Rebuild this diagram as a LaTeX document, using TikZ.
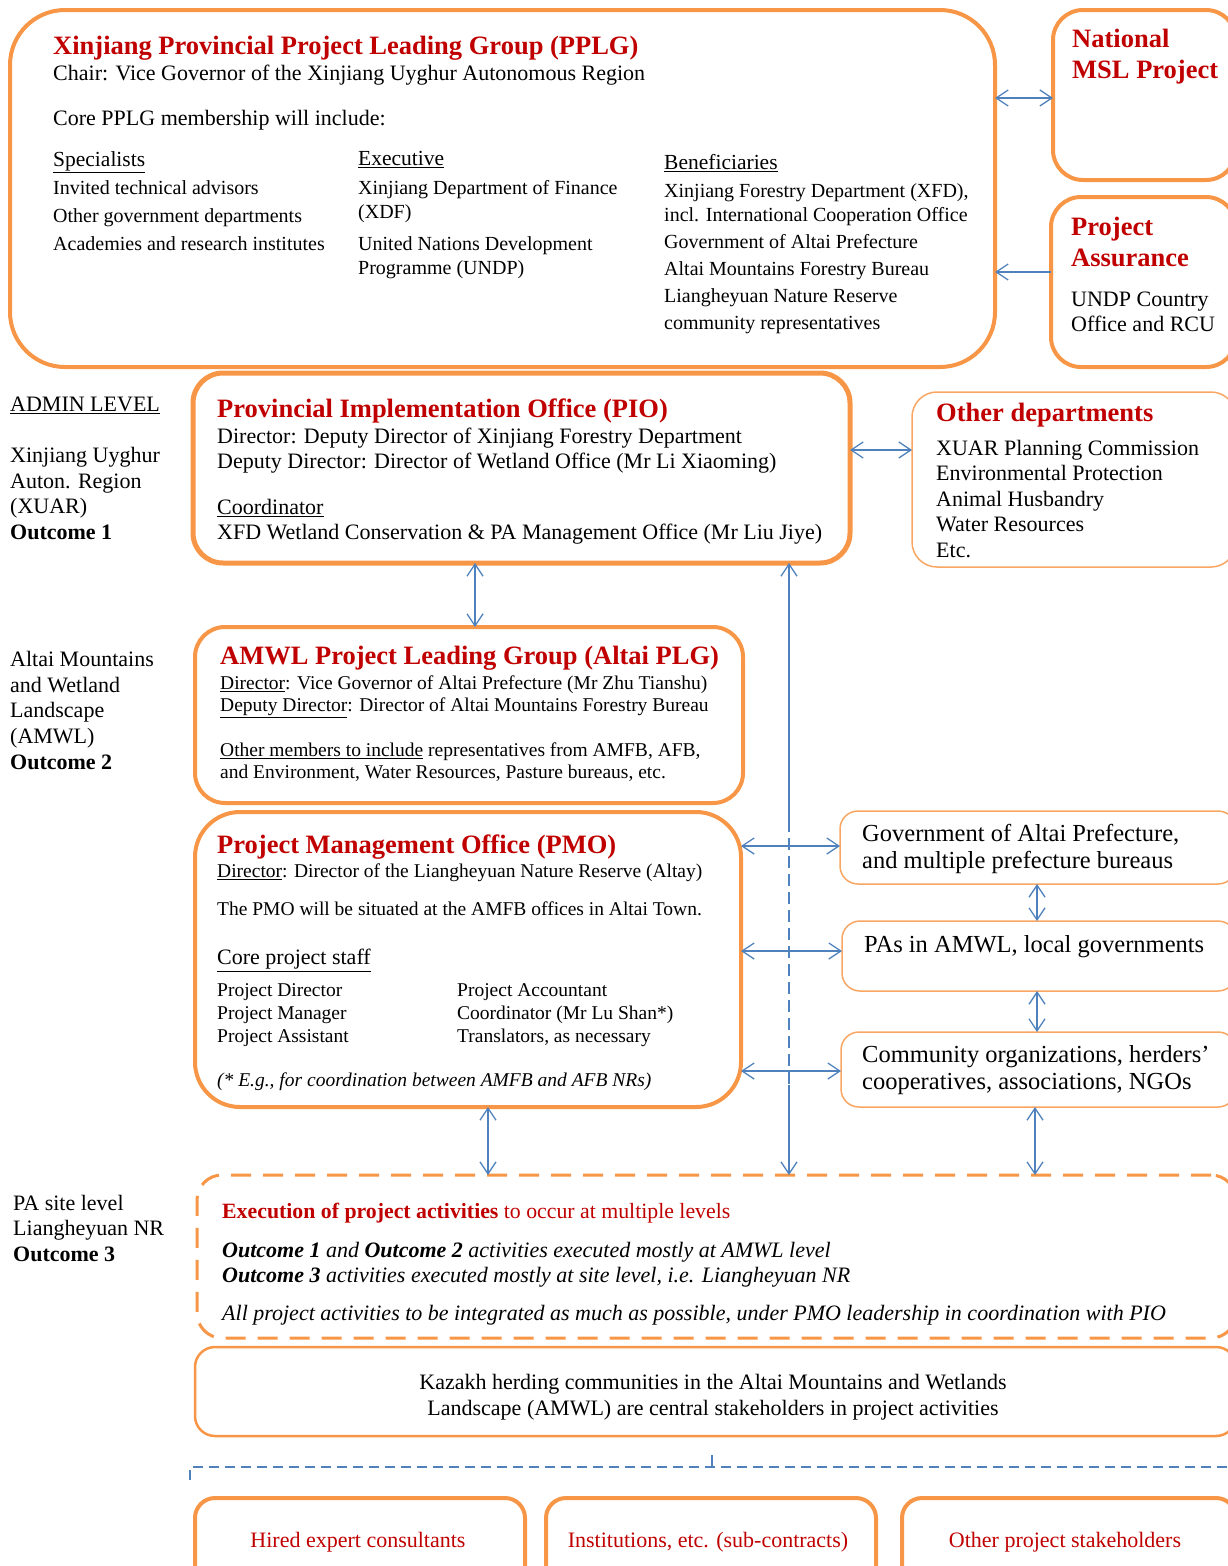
\documentclass[tikz,border=0pt]{standalone}
\usepackage{fontspec}
\setmainfont{Liberation Serif}
\usepackage{xcolor}
\usepackage{tikz}
\usetikzlibrary{positioning}
\usetikzlibrary{arrows.meta}
\pgfdeclarelayer{nodelayer}
\pgfdeclarelayer{edgelayer}
\pgfsetlayers{nodelayer,edgelayer,main}
\definecolor{boxorange}{HTML}{F79646}
\definecolor{titlered}{HTML}{C00000}
\definecolor{linkblue}{HTML}{4F81BD}
\newcommand{\setfs}[2]{\fontsize{#1}{#2}\selectfont}
\newcommand{\titlefont}{\setfs{26.5}{31}\bfseries}

\begin{document}
\begin{tikzpicture}[x=1pt, y=-1pt, >={Straight Barb[length=12pt,width=16pt]},
  panel/.style={draw=boxorange, line width=4pt, rounded corners=#1, anchor=north west, inner sep=0pt, outer sep=0pt},
  thinpanel/.style={draw=boxorange!85, line width=1.5pt, rounded corners=#1, anchor=north west, inner sep=0pt, outer sep=0pt},
  link/.style={draw=linkblue, line width=1.3pt},
  txt/.style={anchor=north west, inner sep=0pt, align=left},
  head/.style={txt, text=titlered, font=\titlefont}]
  \useasboundingbox (0,0) rectangle (1228,1566);
  \begin{pgfonlayer}{nodelayer}
    \node [panel=55pt, minimum width=985pt, minimum height=357pt] (pplg) at (10,10) {};
    \node [panel=30pt, minimum width=183pt, minimum height=170pt] (msl) at (1053,10) {};
    \node [panel=30pt, minimum width=185pt, minimum height=170pt] (assur) at (1051,197) {};
    \node [panel=30pt, line width=5pt, minimum width=657pt, minimum height=190pt] (pio) at (193,373) {};
    \node [thinpanel=25pt, minimum width=324pt, minimum height=175pt] (otherdep) at (912,392) {};
    \node [panel=30pt, minimum width=548pt, minimum height=176pt] (plg) at (195,627) {};
    \node [panel=45pt, minimum width=546pt, minimum height=295pt] (pmo) at (195,812) {};
    \node [thinpanel=18pt, minimum width=396pt, minimum height=73pt] (gov) at (840,811) {};
    \node [thinpanel=18pt, minimum width=394pt, minimum height=70pt] (pas) at (842,921) {};
    \node [thinpanel=18pt, minimum width=395pt, minimum height=75pt] (comm) at (841,1032) {};
    \node [panel=25pt, line width=3pt, dash pattern=on 20pt off 12pt, minimum width=1039pt, minimum height=163pt] (exec) at (197,1175) {};
    \node [panel=20pt, line width=2.5pt, minimum width=1041pt, minimum height=89pt] (kazakh) at (195,1347) {};
    \node [panel=20pt, minimum width=330pt, minimum height=100pt] (hired) at (195,1498) {};
    \node [panel=20pt, minimum width=330pt, minimum height=100pt] (inst) at (546,1498) {};
    \node [panel=20pt, minimum width=334pt, minimum height=100pt] (others) at (902,1498) {};
  \end{pgfonlayer}
  \begin{pgfonlayer}{edgelayer}
    \coordinate (v1) at (789,820);
    \coordinate (v2) at (789,1085);
    \coordinate (lb) at (190,1480);
    \coordinate (lt) at (190,1467);
    \coordinate (re) at (1240,1467);
    \coordinate (mk) at (712,1455);
    \coordinate (mb) at (712,1467);
    \draw [link, <->] (pplg.east |- 0,98) to (msl.west |- 0,98);
    \draw [link, ->] (assur.west |- 0,272) to (pplg.east |- 0,272);
    \draw [link, <->] (pio.east |- 0,450) to (otherdep.west |- 0,450);
    \draw [link, <->] (pio.south -| 475,0) to (plg.north -| 475,0);
    \draw [link, <-] (pio.south -| 789,0) to (v1);
    \draw [link, dash pattern=on 12pt off 6pt] (v1) to (v2);
    \draw [link, ->] (v2) to (exec.north -| 789,0);
    \draw [link, <->] (pmo.east |- 0,846) to (gov.west |- 0,846);
    \draw [link, <->] (pmo.east |- 0,951) to (pas.west |- 0,951);
    \draw [link, <->] (pmo.east |- 0,1071) to (comm.west |- 0,1071);
    \draw [link, <->] (gov.south -| 1037,0) to (pas.north -| 1037,0);
    \draw [link, <->] (pas.south -| 1037,0) to (comm.north -| 1037,0);
    \draw [link, <->] (comm.south -| 1035,0) to (exec.north -| 1035,0);
    \draw [link, <->] (pmo.south -| 488,0) to (exec.north -| 488,0);
    \draw [link, dash pattern=on 10pt off 6pt] (lb) to (lt) to (re);
    \draw [link] (mk) to (mb);
  \end{pgfonlayer}
  % PPLG
  \node [head] (pplgt) at (53,36) {Xinjiang Provincial Project Leading Group (PPLG)};
  \node [txt, font=\setfs{22}{26}] (chair) at (53,65) {Chair: Vice Governor of the Xinjiang Uyghur Autonomous Region};
  \node [txt, font=\setfs{22}{26}] (core) at (53,110) {Core PPLG membership will include:};
  \node [txt, font=\setfs{21.5}{26}] (spec) at (53,151) {\underline{Specialists}};
  \node [txt, font=\setfs{21.5}{26}] (exe) at (358,151) {\underline{Executive}};
  \node [txt, font=\setfs{21.5}{26}] (ben) at (664,154) {\underline{Beneficiaries}};
  \node [txt, font=\setfs{20}{28}] (specl) at (53,180) {Invited technical advisors\\Other government departments\\Academies and research institutes};
  \node [txt, font=\setfs{20}{24}] (exel) at (358,180) {Xinjiang Department of Finance\\(XDF)\\[8pt]United Nations Development\\Programme (UNDP)};
  \node [txt, font=\setfs{20}{24}] (benl) at (664,183) {Xinjiang Forestry Department (XFD),\\incl. International Cooperation Office\\[3pt]Government of Altai Prefecture\\[3pt]Altai Mountains Forestry Bureau\\[3pt]Liangheyuan Nature Reserve\\[3pt]community representatives};
  \node [head] (mslt) at (1072,29) {National\\MSL Project};
  \node [head] (assurt) at (1071,217) {Project\\Assurance};
  \node [txt, font=\setfs{22}{25}] (assurl) at (1071,292) {UNDP Country\\Office and RCU};
  % admin levels
  \node [txt, font=\setfs{22}{25.7}] (admin) at (10,397) {\underline{ADMIN LEVEL}};
  \node [txt, font=\setfs{22}{25.7}] (xuar) at (10,447) {Xinjiang Uyghur\\Auton. Region\\(XUAR)\\\textbf{Outcome 1}};
  \node [txt, font=\setfs{22}{25.7}] (amwl) at (10,651) {Altai Mountains\\and Wetland\\Landscape\\(AMWL)\\\textbf{Outcome 2}};
  \node [txt, font=\setfs{22}{25.5}] (site) at (13,1195) {PA site level\\Liangheyuan NR\\\textbf{Outcome 3}};
  % PIO
  \node [head] (piot) at (217,399) {Provincial Implementation Office (PIO)};
  \node [txt, font=\setfs{22}{25}] (piol) at (217,428) {Director: Deputy Director of Xinjiang Forestry Department\\Deputy Director: Director of Wetland Office (Mr Li Xiaoming)\\[21pt]\underline{Coordinator}\\XFD Wetland Conservation \& PA Management Office (Mr Liu Jiye)};
  \node [head] (othert) at (936,403) {Other departments};
  \node [txt, font=\setfs{22}{25.5}] (otherl) at (936,440) {XUAR Planning Commission\\Environmental Protection\\Animal Husbandry\\Water Resources\\Etc.};
  % Altai PLG
  \node [head] (plgt) at (220,646) {AMWL Project Leading Group (Altai PLG)};
  \node [txt, font=\setfs{19.5}{22}] (plgl) at (220,676) {\underline{Director}: Vice Governor of Altai Prefecture (Mr Zhu Tianshu)\\\underline{Deputy Director}: Director of Altai Mountains Forestry Bureau\\[23pt]\underline{Other members to include} representatives from AMFB, AFB,\\and Environment, Water Resources, Pasture bureaus, etc.};
  % PMO
  \node [head] (pmot) at (217,835) {Project Management Office (PMO)};
  \node [txt, font=\setfs{19.5}{22}] (pmol) at (217,864) {\underline{Director}: Director of the Liangheyuan Nature Reserve (Altay)\\[16pt]The PMO will be situated at the AMFB offices in Altai Town.};
  \node [txt, font=\setfs{22}{25}] (staff) at (217,949) {\underline{Core project staff}};
  \node [txt, font=\setfs{19.5}{23}] (staffa) at (217,983) {Project Director\\Project Manager\\Project Assistant};
  \node [txt, font=\setfs{19.5}{23}] (staffb) at (457,983) {Project Accountant\\Coordinator (Mr Lu Shan*)\\Translators, as necessary};
  \node [txt, font=\setfs{19.5}{22}\itshape] (note) at (217,1073) {(* E.g., for coordination between AMFB and AFB NRs)};
  % prefecture side
  \node [txt, font=\setfs{24.5}{27}] (govl) at (862,824) {Government of Altai Prefecture,\\and multiple prefecture bureaus};
  \node [txt, font=\setfs{24.5}{27}] (pasl) at (864,935) {PAs in AMWL, local governments};
  \node [txt, font=\setfs{24.5}{27}] (comml) at (862,1045) {Community organizations, herders’\\cooperatives, associations, NGOs};
  % execution
  \node [txt, text=titlered, font=\setfs{21.8}{25}] (exect) at (222,1203) {\textbf{Execution of project activities} to occur at multiple levels};
  \node [txt, font=\setfs{22}{25}\itshape] (execl) at (222,1242) {\textbf{Outcome 1} and \textbf{Outcome 2} activities executed mostly at AMWL level\\\textbf{Outcome 3} activities executed mostly at site level, i.e. Liangheyuan NR};
  \node [txt, font=\setfs{22}{25}\itshape] (execn) at (222,1305) {All project activities to be integrated as much as possible, under PMO leadership in coordination with PIO};
  \node [anchor=north, inner sep=0pt, align=center, font=\setfs{22}{26}] (kazl) at (713,1374) {Kazakh herding communities in the Altai Mountains and Wetlands\\Landscape (AMWL) are central stakeholders in project activities};
  % contracted parties
  \node [anchor=north, inner sep=0pt, text=titlered, font=\setfs{22}{26}] (hiredl) at (358,1532) {Hired expert consultants};
  \node [anchor=north, inner sep=0pt, text=titlered, font=\setfs{22}{26}] (instl) at (708,1532) {Institutions, etc. (sub-contracts)};
  \node [anchor=north, inner sep=0pt, text=titlered, font=\setfs{22}{26}] (othersl) at (1065,1532) {Other project stakeholders};
\end{tikzpicture}
\end{document}
